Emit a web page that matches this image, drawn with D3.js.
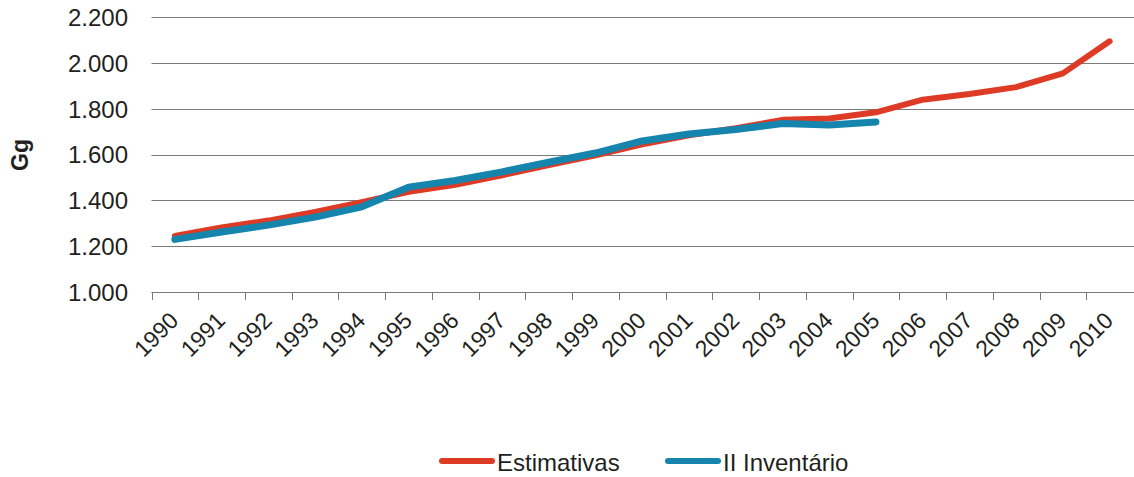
<!DOCTYPE html>
<html>
<head>
<meta charset="utf-8">
<script src="https://cdn.jsdelivr.net/npm/d3@7"></script>
<style>
  body { margin: 0; background: #fff; }
  svg text { font-family: "Liberation Sans", Arial, sans-serif; fill: #231f20; }
</style>
</head>
<body>
<svg class="chart"></svg>
<script>
var years = ["1990","1991","1992","1993","1994","1995","1996","1997","1998","1999","2000",
             "2001","2002","2003","2004","2005","2006","2007","2008","2009","2010"];
var estimativas = [1245, 1282, 1312, 1350, 1392, 1438, 1468, 1510, 1555, 1597, 1645,
                   1685, 1715, 1752, 1758, 1785, 1840, 1865, 1895, 1955, 2095];
var inventario = [1230, 1262, 1292, 1327, 1372, 1458, 1487, 1525, 1567, 1607, 1660,
                  1690, 1710, 1736, 1730, 1743];
var yTicks = [1000, 1200, 1400, 1600, 1800, 2000, 2200];
var seriesNames = ["Estimativas", "II Inventário"];
var colors = ["#de3b26", "#1585ae"];

(function () {
    'use strict';

    var W = 1134, H = 477;
    var left = 151.5, right = 1133, top = 17.3, bottom = 292;

    var svg = d3.select(".chart").attr("width", W).attr("height", H);

    var x = d3.scaleBand().domain(years).range([left, right]);
    var y = d3.scaleLinear().domain([1000, 2200]).range([bottom, top]);
    var fmt = function (d) { return d3.format(",")(d).replace(",", "."); };

    // gridlines
    svg.append("g").selectAll("line")
        .data(yTicks.slice(1)).enter()
        .append("line")
        .attr("x1", left).attr("x2", W)
        .attr("y1", function (d) { return Math.round(y(d)) + 0.5; })
        .attr("y2", function (d) { return Math.round(y(d)) + 0.5; })
        .attr("stroke", "#7a7a7a").attr("stroke-width", 1);

    // y labels
    svg.append("g").selectAll("text")
        .data(yTicks).enter()
        .append("text")
        .attr("x", 128)
        .attr("y", function (d) { return y(d); })
        .attr("dy", "0.36em")
        .attr("text-anchor", "end")
        .style("font-size", "24px")
        .text(fmt);

    // x axis line + ticks at band edges
    var xa = svg.append("g");
    xa.append("line")
        .attr("x1", left).attr("x2", W)
        .attr("y1", Math.round(bottom) + 0.5).attr("y2", Math.round(bottom) + 0.5)
        .attr("stroke", "#7a7a7a");
    xa.selectAll("line.tick")
        .data(years).enter()
        .append("line").attr("class", "tick")
        .attr("x1", function (d) { return Math.round(x(d)) + 0.5; })
        .attr("x2", function (d) { return Math.round(x(d)) + 0.5; })
        .attr("y1", bottom).attr("y2", bottom + 8)
        .attr("stroke", "#7a7a7a");

    xa.selectAll("text")
        .data(years).enter()
        .append("text")
        .attr("text-anchor", "end")
        .attr("transform", function (d) {
            return "translate(" + (x(d) + x.bandwidth() / 2 + 5) + "," + 322 + ") rotate(-45)";
        })
        .style("font-size", "23px")
        .text(function (d) { return d; });

    // y title
    svg.append("text")
        .attr("transform", "translate(28,155) rotate(-90)")
        .attr("text-anchor", "middle")
        .style("font-size", "23px")
        .style("font-weight", "bold")
        .text("Gg");

    var line = d3.line()
        .x(function (d, i) { return x(years[i]) + x.bandwidth() / 2; })
        .y(function (d) { return y(d); });

    [estimativas, inventario].forEach(function (s, i) {
        svg.append("path")
            .attr("d", line(s))
            .attr("fill", "none")
            .attr("stroke", colors[i])
            .attr("stroke-width", i === 0 ? 6 : 7)
            .attr("stroke-linecap", "round")
            .attr("stroke-linejoin", "round");
    });

    // legend
    var legX = [442, 668];
    var lg = svg.append("g");
    seriesNames.forEach(function (n, i) {
        lg.append("line")
            .attr("x1", legX[i]).attr("x2", legX[i] + 50)
            .attr("y1", 461).attr("y2", 461)
            .attr("stroke", colors[i]).attr("stroke-width", 6)
            .attr("stroke-linecap", "round");
        lg.append("text")
            .attr("x", legX[i] + 55).attr("y", 471)
            .style("font-size", "24px")
            .text(n);
    });
})();
</script>
</body>
</html>
